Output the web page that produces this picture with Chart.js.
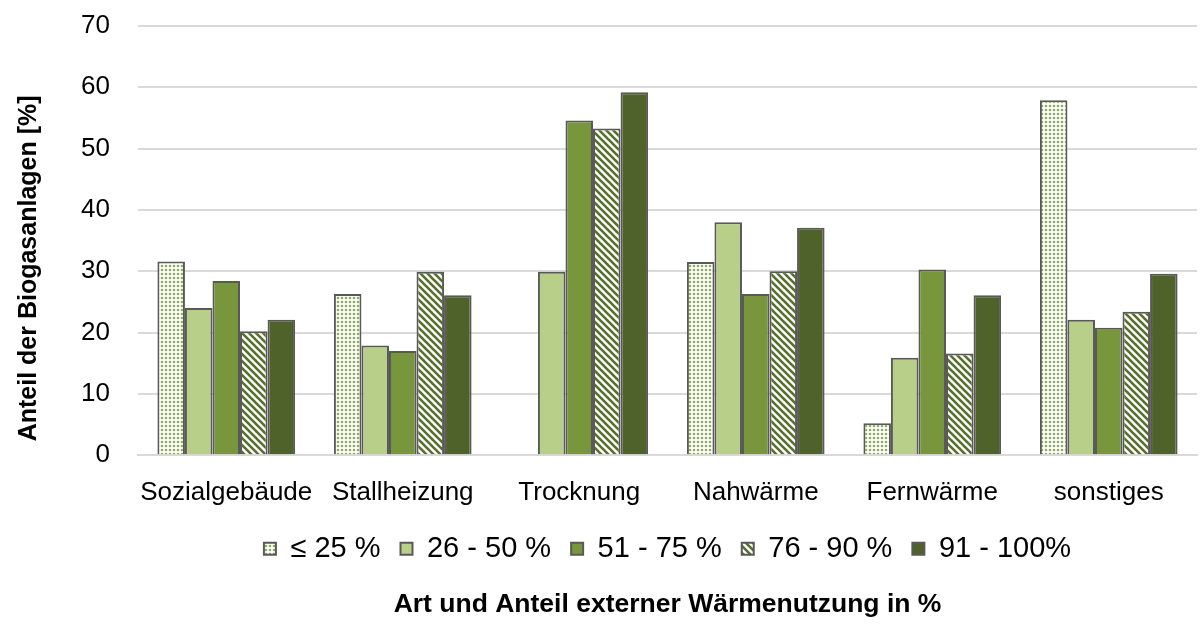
<!DOCTYPE html>
<html lang="de">
<head>
  <meta charset="UTF-8" />
  <title>Externe Wärmenutzung</title>
  <script src="https://cdn.jsdelivr.net/npm/chart.js"></script>
  <style>
    html, body { margin: 0; padding: 0; background: #fff; }
    #wrap { width: 1204px; height: 626px; }
  </style>
</head>
<body>
  <div id="wrap"><canvas id="waermeChart"></canvas></div>

  <script>
    const categories = ['Sozialgebäude', 'Stallheizung', 'Trocknung', 'Nahwärme', 'Fernwärme', 'sonstiges'];
    const seriesNames = ['≤ 25 %', '26 - 50 %', '51 - 75 %', '76 - 90 %', '91 - 100%'];
    const upTo25 = [31.6, 26.3, 0, 31.5, 5.2, 57.9];
    const from26to50 = [24.0, 17.9, 29.9, 38.0, 15.9, 22.1];
    const from51to75 = [28.4, 17.0, 54.6, 26.3, 30.3, 20.8];
    const from76to90 = [20.2, 29.9, 53.3, 30.0, 16.6, 23.4];
    const from91to100 = [22.1, 26.1, 59.2, 37.1, 26.1, 29.6];
    const yTicks = [0, 10, 20, 30, 40, 50, 60, 70];

    const sans = '"Liberation Sans", Arial, sans-serif';
    const ctx = document.getElementById('waermeChart').getContext('2d');

    // dotted fill for the lowest class
    function dotPattern() {
      const c = document.createElement('canvas');
      c.width = 4; c.height = 4;
      const g = c.getContext('2d');
      g.fillStyle = '#ffffff';
      g.fillRect(0, 0, 4, 4);
      g.fillStyle = '#8aab58';
      g.beginPath();
      g.arc(2, 2, 1.3, 0, Math.PI * 2);
      g.fill();
      return ctx.createPattern(c, 'repeat');
    }

    // diagonal stripes "\" for 76-90 %
    function stripePattern() {
      const s = 7;
      const c = document.createElement('canvas');
      c.width = s; c.height = s;
      const g = c.getContext('2d');
      g.fillStyle = '#ffffff';
      g.fillRect(0, 0, s, s);
      g.strokeStyle = '#56702c';
      g.lineWidth = 2.6;
      g.beginPath();
      g.moveTo(-s, 0); g.lineTo(s, 2 * s);
      g.moveTo(0, 0); g.lineTo(s, s);
      g.moveTo(0, -s); g.lineTo(2 * s, s);
      g.stroke();
      return ctx.createPattern(c, 'repeat');
    }

    const fills = [dotPattern(), '#b8cf8a', '#78963b', stripePattern(), '#4f6229'];
    const values = [upTo25, from26to50, from51to75, from76to90, from91to100];

    const datasets = values.map((v, i) => ({
      label: seriesNames[i],
      data: v,
      backgroundColor: fills[i],
      borderColor: '#595959',
      borderWidth: 2,
      borderSkipped: 'bottom',
      barPercentage: 1,
      categoryPercentage: 0.78
    }));

    new Chart(ctx, {
      type: 'bar',
      data: { labels: categories, datasets },
      options: {
        responsive: true,
        maintainAspectRatio: false,
        animation: false,
        layout: { padding: { top: 26, right: 7, left: 14, bottom: 0 } },
        scales: {
          x: {
            grid: { display: false },
            border: { color: '#d9d9d9', width: 2 },
            ticks: { color: '#000', font: { family: sans, size: 26 }, padding: 14, maxRotation: 0 },
            afterFit: axis => { axis.height = 59; }
          },
          y: {
            min: 0,
            max: 70,
            afterBuildTicks: axis => { axis.ticks = yTicks.map(v => ({ value: v })); },
            afterFit: axis => {
              axis.width = 124;
              axis.paddingTop = 0;
              axis.paddingBottom = 0;
            },
            grid: { color: '#d9d9d9', lineWidth: 2, drawTicks: false },
            border: { display: false },
            ticks: { color: '#000', font: { family: sans, size: 26 }, padding: 28 },
            title: {
              display: true,
              // trailing spaces nudge the rotated title down like in the original
              text: 'Anteil der Biogasanlagen [%]        ',
              color: '#000',
              font: { family: sans, size: 25, weight: 'bold' },
              padding: { top: 0, bottom: 0 }
            }
          }
        },
        plugins: {
          legend: {
            position: 'bottom',
            fullSize: false,
            labels: {
              color: '#000',
              font: { family: sans, size: 29 },
              boxWidth: 12,
              boxHeight: 12,
              padding: 20
            }
          },
          title: {
            display: true,
            position: 'bottom',
            fullSize: false,
            text: 'Art und Anteil externer Wärmenutzung in %',
            color: '#000',
            font: { family: sans, size: 26.5, weight: 'bold' },
            padding: { top: 16, bottom: 5 }
          },
          tooltip: { enabled: false }
        }
      }
    });
  </script>
</body>
</html>
